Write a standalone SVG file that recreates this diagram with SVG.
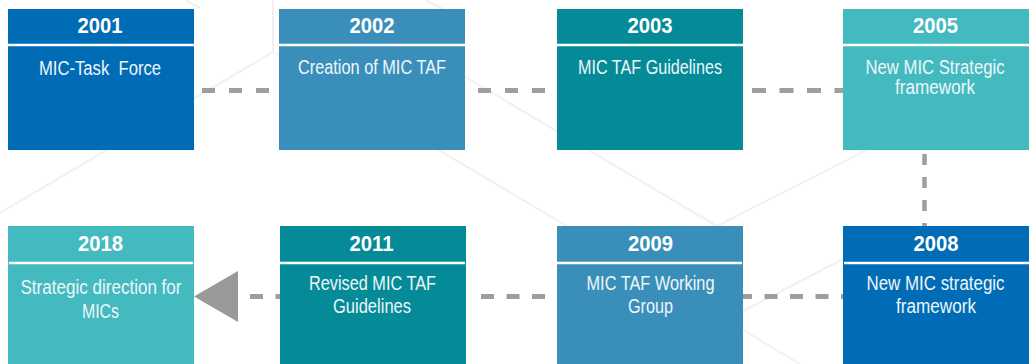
<svg xmlns="http://www.w3.org/2000/svg" width="1029" height="364" viewBox="0 0 1029 364">
  <style>
    .bg { fill: none; stroke: #f1f1f1; stroke-width: 2; }
    .box-a { fill: #006cb5; }
    .box-b { fill: #3a8fba; }
    .box-c { fill: #048b97; }
    .box-d { fill: #43bac0; }
    .rule { stroke: #ffffff; stroke-width: 2.5; }
    .year { font-family: "Liberation Sans Narrow", "Liberation Sans", Arial, sans-serif; font-weight: bold; font-size: 22px; fill: #ffffff; text-anchor: middle; }
    .desc { font-family: "Liberation Sans Narrow", "Liberation Sans", Arial, sans-serif; font-size: 20px; fill: #eef6fa; text-anchor: middle; }
    .dash-h { stroke: #9e9e9e; stroke-width: 5; fill: none; }
    .dash-v { stroke: #9e9e9e; stroke-width: 4.5; fill: none; stroke-dasharray: 11 12; }
    .head { fill: #999999; }
  </style>

  <rect width="1029" height="364" fill="#ffffff"/>

  <!-- faint background network -->
  <g id="background">
    <path class="bg" d="M273 0 V52 L0 213"/>
    <path class="bg" d="M273 52 L567 226"/>
    <path class="bg" d="M440 62 L717 226 L1029 68"/>
    <path class="bg" d="M743 311 L843 259"/>
    <path class="bg" d="M743 330 L800 364"/>
    <path class="bg" d="M185 0 L200 8"/>
    <path class="bg" d="M425 0 L445 10"/>
  </g>

  <!-- dashed timeline connectors -->
  <g id="connectors">
    <line class="dash-h" x1="202" y1="90.5" x2="279" y2="90.5" stroke-dasharray="13 14"/>
    <line class="dash-h" x1="478" y1="90.5" x2="557" y2="90.5" stroke-dasharray="13 14"/>
    <line class="dash-h" x1="752" y1="90.5" x2="843" y2="90.5" stroke-dasharray="14 13.5"/>
    <line class="dash-v" x1="924.5" y1="154" x2="924.5" y2="226"/>
    <line class="dash-h" x1="739" y1="296.5" x2="843" y2="296.5" stroke-dasharray="13 12.5"/>
    <line class="dash-h" x1="481" y1="296.5" x2="557" y2="296.5" stroke-dasharray="13 12.5"/>
    <line class="dash-h" x1="250" y1="296.5" x2="280" y2="296.5" stroke-dasharray="13 12.5"/>
    <polygon class="head" points="194,296.5 238,271 238,322"/>
  </g>

  <g id="node-2001">
    <rect class="box-a" x="8" y="9" width="186" height="141"/>
    <line class="rule" x1="8" y1="45" x2="194" y2="45"/>
    <text class="year" x="100" y="33" textLength="45" lengthAdjust="spacingAndGlyphs">2001</text>
    <text class="desc" x="100" y="75" textLength="122" lengthAdjust="spacingAndGlyphs">MIC-Task&#160; Force</text>
  </g>

  <g id="node-2002">
    <rect class="box-b" x="279" y="9" width="186" height="141"/>
    <line class="rule" x1="279" y1="45" x2="465" y2="45"/>
    <text class="year" x="372" y="33" textLength="45" lengthAdjust="spacingAndGlyphs">2002</text>
    <text class="desc" x="372" y="74" textLength="148" lengthAdjust="spacingAndGlyphs">Creation of MIC TAF</text>
  </g>

  <g id="node-2003">
    <rect class="box-c" x="557" y="9" width="186" height="141"/>
    <line class="rule" x1="557" y1="45" x2="743" y2="45"/>
    <text class="year" x="650" y="33" textLength="45" lengthAdjust="spacingAndGlyphs">2003</text>
    <text class="desc" x="650" y="73.5" textLength="144" lengthAdjust="spacingAndGlyphs">MIC TAF Guidelines</text>
  </g>

  <g id="node-2005">
    <rect class="box-d" x="843" y="9" width="186" height="141"/>
    <line class="rule" x1="843" y1="45" x2="1029" y2="45"/>
    <text class="year" x="935.5" y="33" textLength="45" lengthAdjust="spacingAndGlyphs">2005</text>
    <text class="desc" x="935" y="73.5" textLength="139" lengthAdjust="spacingAndGlyphs">New MIC Strategic</text>
    <text class="desc" x="935" y="93.5" textLength="80" lengthAdjust="spacingAndGlyphs">framework</text>
  </g>

  <g id="node-2008">
    <rect class="box-a" x="843" y="226" width="186" height="138"/>
    <line class="rule" x1="844" y1="263" x2="1029" y2="263"/>
    <text class="year" x="936" y="251" textLength="45" lengthAdjust="spacingAndGlyphs">2008</text>
    <text class="desc" x="935.5" y="290" textLength="138" lengthAdjust="spacingAndGlyphs">New MIC strategic</text>
    <text class="desc" x="936" y="313" textLength="80" lengthAdjust="spacingAndGlyphs">framework</text>
  </g>

  <g id="node-2009">
    <rect class="box-b" x="557" y="226" width="186" height="138"/>
    <line class="rule" x1="557" y1="263" x2="742" y2="263"/>
    <text class="year" x="650.5" y="251" textLength="45" lengthAdjust="spacingAndGlyphs">2009</text>
    <text class="desc" x="650.5" y="290" textLength="128" lengthAdjust="spacingAndGlyphs">MIC TAF Working</text>
    <text class="desc" x="650.5" y="312.5" textLength="45" lengthAdjust="spacingAndGlyphs">Group</text>
  </g>

  <g id="node-2011">
    <rect class="box-c" x="280" y="226" width="186" height="138"/>
    <line class="rule" x1="280" y1="263" x2="465" y2="263"/>
    <text class="year" x="371.5" y="251" textLength="44" lengthAdjust="spacingAndGlyphs">2011</text>
    <text class="desc" x="372.5" y="290" textLength="127" lengthAdjust="spacingAndGlyphs">Revised MIC TAF</text>
    <text class="desc" x="372" y="313" textLength="78" lengthAdjust="spacingAndGlyphs">Guidelines</text>
  </g>

  <g id="node-2018">
    <rect class="box-d" x="8" y="226" width="186" height="138"/>
    <line class="rule" x1="9" y1="263" x2="193" y2="263"/>
    <text class="year" x="100.5" y="251" textLength="45" lengthAdjust="spacingAndGlyphs">2018</text>
    <text class="desc" x="101" y="294" textLength="161" lengthAdjust="spacingAndGlyphs">Strategic direction for</text>
    <text class="desc" x="100.5" y="318" textLength="37" lengthAdjust="spacingAndGlyphs">MICs</text>
  </g>
</svg>
